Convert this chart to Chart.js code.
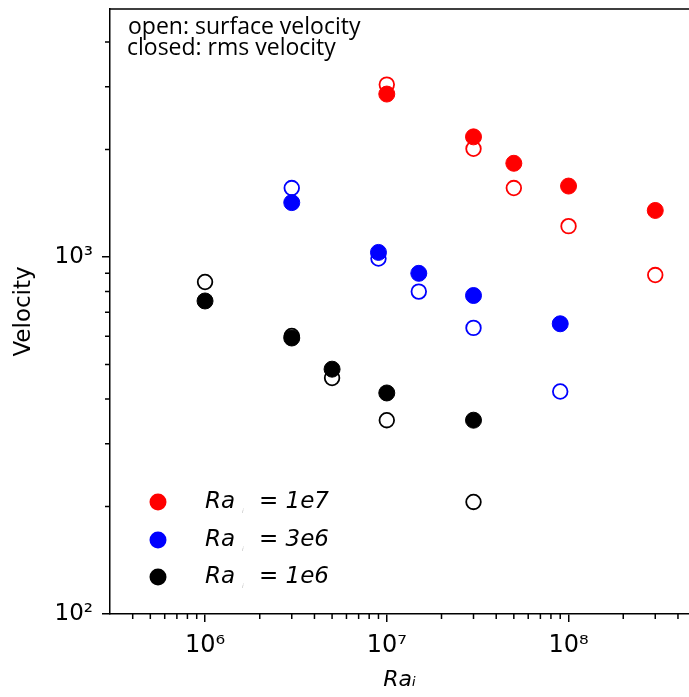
<!DOCTYPE html>
<html>
<head>
<meta charset="utf-8">
<script src="https://cdn.jsdelivr.net/npm/chart.js@4/dist/chart.umd.min.js"></script>
<style>
  html, body { margin: 0; padding: 0; background: #fff; overflow: hidden; }
  canvas { display: block; }
</style>
</head>
<body>
<canvas id="velocityChart" width="689" height="697"></canvas>
<script>
// groups: Ra_i value and colour
var groupLabels = ['1e7', '3e6', '1e6'];
var groupColors = ['#ff0000', '#0000ff', '#000000'];

// Ra values (x) per group
var raRed = [1e7, 3e7, 5e7, 1e8, 3e8];
var raBlue = [3e6, 9e6, 1.5e7, 3e7, 9e7];
var raBlack = [1e6, 3e6, 5e6, 1e7, 3e7];

// closed markers = rms velocity, open markers = surface velocity
var rmsRed = [2860, 2170, 1830, 1580, 1350];
var surfRed = [3040, 2010, 1560, 1220, 890];
var rmsBlue = [1420, 1030, 900, 780, 650];
var surfBlue = [1560, 990, 800, 633, 420];
var rmsBlack = [753, 593, 485, 416, 349];
var surfBlack = [851, 601, 458, 349, 206];

// axis ticks
var xMajor = [1e6, 1e7, 1e8];
var yMajor = [1e2, 1e3];
var xMin = 3e5, xMax = 4.6e8;
var yMin = 100, yMax = 4950;

var supers = {'0':'⁰','1':'¹','2':'²','3':'³','4':'⁴','5':'⁵','6':'⁶','7':'⁷','8':'⁸','9':'⁹'};
function powLabel(v) {
    var e = String(Math.round(Math.log10(v)));
    return '10' + e.split('').map(function (c) { return supers[c]; }).join('');
}

function pts(xs, ys) {
    return xs.map(function (x, i) { return {x: x, y: ys[i]}; });
}

var xs = [raRed, raBlue, raBlack];
var rms = [rmsRed, rmsBlue, rmsBlack];
var surf = [surfRed, surfBlue, surfBlack];

var datasets = [];
for (var g = 0; g < 3; g++) {
    datasets.push({
        label: 'Ra_i = ' + groupLabels[g],
        data: pts(xs[g], rms[g]),
        pointRadius: 8,
        pointBorderWidth: 1,
        borderColor: groupColors[g],
        backgroundColor: groupColors[g],
        order: 0
    });
    datasets.push({
        label: 'surface ' + groupLabels[g],
        data: pts(xs[g], surf[g]),
        pointRadius: 7.3,
        pointBorderWidth: 1.8,
        borderColor: groupColors[g],
        backgroundColor: 'rgba(255,255,255,0)',
        order: 1
    });
}

function noEdgePadding(scale) {
    scale.paddingTop = 0;
    scale.paddingBottom = 0;
    scale.paddingLeft = 0;
    scale.paddingRight = 0;
}

// minor ticks, top frame line, note text and legend
var extrasPlugin = {
    id: 'extras',
    afterDraw: function (chart) {
        var ctx = chart.ctx;
        var area = chart.chartArea;
        var xs = chart.scales.x, ys = chart.scales.y;
        ctx.save();
        // the original is cropped on the right: no right frame
        ctx.fillStyle = '#fff';
        ctx.fillRect(area.right - 4, area.top + 1, 4, area.bottom - area.top - 2);

        ctx.strokeStyle = '#000';
        ctx.lineWidth = 1.5;
        ctx.beginPath();
        ctx.moveTo(area.left - 0.75, area.top);
        ctx.lineTo(area.right, area.top);
        // minor ticks
        for (var d = 5; d <= 8; d++) {
            for (var m = 2; m <= 9; m++) {
                var v = m * Math.pow(10, d);
                if (v > xMin && v < xMax) {
                    var px = xs.getPixelForValue(v);
                    ctx.moveTo(px, area.bottom);
                    ctx.lineTo(px, area.bottom + 5);
                }
            }
        }
        for (var d2 = 2; d2 <= 3; d2++) {
            for (var m2 = 2; m2 <= 9; m2++) {
                var w = m2 * Math.pow(10, d2);
                if (w > yMin && w < yMax) {
                    var py = ys.getPixelForValue(w);
                    ctx.moveTo(area.left, py);
                    ctx.lineTo(area.left - 5, py);
                }
            }
        }
        ctx.stroke();

        // note
        ctx.fillStyle = '#000';
        ctx.textBaseline = 'alphabetic';
        ctx.textAlign = 'left';
        ctx.font = '23px "Open Sans"';
        ctx.fillText('open: surface velocity', area.left + 18, 34);
        ctx.fillText('closed: rms velocity', area.left + 17, 55);

        // legend
        var rowY = [502, 540, 577];
        for (var i = 0; i < 3; i++) {
            ctx.fillStyle = groupColors[i];
            ctx.beginPath();
            ctx.arc(area.left + 48, rowY[i], 8.5, 0, Math.PI * 2);
            ctx.fill();
            ctx.fillStyle = '#000';
            ctx.font = 'italic 23px "DejaVu Sans"';
            ctx.textBaseline = 'middle';
            ctx.fillText('Ra', area.left + 95, rowY[i]);
            ctx.font = 'italic 6px "DejaVu Sans"';
            ctx.fillStyle = '#bbb';
            ctx.fillText('i', area.left + 132, rowY[i] + 9);
            ctx.fillStyle = '#000';
            ctx.font = 'italic 23px "DejaVu Sans"';
            ctx.fillText('= ' + groupLabels[i], area.left + 149, rowY[i]);
        }
        ctx.restore();
    }
};

var ctx = document.getElementById('velocityChart').getContext('2d');
var velocityChart = new Chart(ctx, {
    type: 'scatter',
    data: { datasets: datasets },
    options: {
        responsive: false,
        animation: false,
        layout: { autoPadding: false, padding: { top: 9, right: 0, left: 0, bottom: 0 } },
        plugins: {
            legend: { display: false },
            tooltip: { enabled: false }
        },
        scales: {
            x: {
                type: 'logarithmic',
                min: xMin,
                max: xMax,
                afterBuildTicks: function (scale) {
                    scale.ticks = xMajor.map(function (v) { return {value: v}; });
                },
                afterFit: function (scale) { scale.height = 83; noEdgePadding(scale); },
                ticks: {
                    autoSkip: false,
                    maxRotation: 0,
                    padding: 9,
                    color: '#000',
                    font: { family: 'DejaVu Sans', size: 24 },
                    callback: function (v) { return powLabel(v); }
                },
                grid: { drawOnChartArea: false, color: '#000', tickLength: 8, lineWidth: 1.5 },
                border: { color: '#000', width: 1.5 },
                title: {
                    display: true,
                    text: 'Raᵢ',
                    color: '#000',
                    font: { family: 'DejaVu Sans', size: 22, style: 'italic', lineHeight: 1 },
                    padding: { top: 0, bottom: 6 }
                }
            },
            y: {
                type: 'logarithmic',
                min: yMin,
                max: yMax,
                afterBuildTicks: function (scale) {
                    scale.ticks = yMajor.map(function (v) { return {value: v}; });
                },
                afterFit: function (scale) { scale.width = 110; noEdgePadding(scale); },
                ticks: {
                    autoSkip: false,
                    padding: 9,
                    color: '#000',
                    font: { family: 'DejaVu Sans', size: 23 },
                    callback: function (v) { return powLabel(v); }
                },
                grid: { drawOnChartArea: false, color: '#000', tickLength: 8, lineWidth: 1.5 },
                border: { color: '#000', width: 1.5 },
                title: {
                    display: true,
                    text: 'Velocity',
                    color: '#000',
                    font: { family: 'DejaVu Sans', size: 23, lineHeight: 1 },
                    padding: { top: 13, bottom: 0 }
                }
            }
        }
    },
    plugins: [extrasPlugin]
});
</script>
</body>
</html>
